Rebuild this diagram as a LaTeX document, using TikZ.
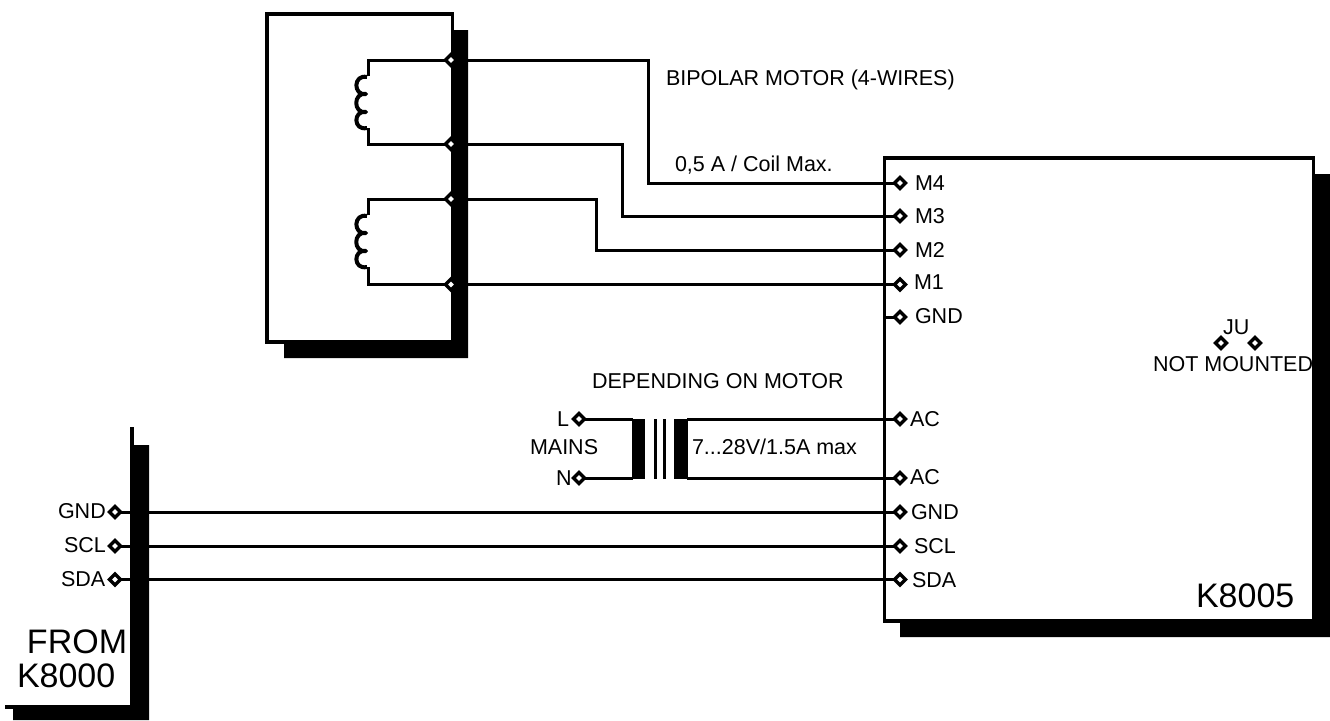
\documentclass[tikz,border=0pt]{standalone}
\usepackage{fontspec}
\setmainfont{Liberation Sans}
\usetikzlibrary{shapes.geometric}
\newcommand{\smalltxt}{\fontsize{21.5}{24}\selectfont}
\newcommand{\bigtxt}{\fontsize{34}{40}\selectfont}
\tikzset{
  term/.style={shape=diamond,draw=black,fill=white,line width=3.4pt,inner sep=0pt,minimum width=12.5pt,minimum height=12.5pt},
  anchorpt/.style={shape=diamond,inner sep=0pt,minimum width=10pt,minimum height=10pt},
  lbl/.style={anchor=base west,inner sep=0pt,outer sep=0pt,font=\smalltxt,text=black,yshift=-1pt},
  biglbl/.style={anchor=base west,inner sep=0pt,outer sep=0pt,font=\bigtxt,text=black},
  wire/.style={draw=black,line width=3pt,line cap=butt,line join=miter},
  coilw/.style={draw=black,line width=4pt,line cap=butt,line join=round},
  frame/.style={draw=black,line width=3.6pt,line join=miter},
  shade/.style={fill=black,draw=none},
}
\begin{document}
\begin{tikzpicture}[x=1pt,y=-1pt]
\useasboundingbox (0,0) rectangle (1330,720);
% shadows
\path[shade] (454,30) -- (468,30) -- (468,358) -- (284,358) -- (284,342) -- (454,342) -- cycle;
\path[shade] (1314,174) -- (1330,174) -- (1330,637) -- (900,637) -- (900,621) -- (1314,621) -- cycle;
\path[shade] (130,445) -- (149,445) -- (149,720) -- (13,720) -- (13,706) -- (130,706) -- cycle;
\path[shade] (130,427) rectangle (134,446);
\path[shade] (5,705) rectangle (131,709);
% boxes
\draw[frame] (267,14) rectangle (452.5,342);
\draw[frame] (884.5,158) rectangle (1313.5,621);
% positions
\coordinate (c1t) at (368,60);  \coordinate (c1b) at (368,144);
\coordinate (c2t) at (368,199); \coordinate (c2b) at (368,284.5);
\coordinate (b4) at (648,60);
\coordinate (b3) at (622,144);
\coordinate (b2) at (596,199);
% transformer
\path[shade] (632,419) rectangle (645,479);
\path[shade] (674,419) rectangle (688,479);
\draw[line width=3pt] (655,419) -- (655,479);
\draw[line width=3pt] (664,419) -- (664,479);
\coordinate (tp1) at (633,419); \coordinate (tp2) at (633,478);
\coordinate (ts1) at (687,419); \coordinate (ts2) at (687,478);
\node[anchorpt] (mt4) at (451,60) {};
\node[anchorpt] (mt3) at (451,144) {};
\node[anchorpt] (mt2) at (451,199) {};
\node[anchorpt] (mt1) at (451,284.5) {};
\node[anchorpt] (m4x) at (900,183) {};
\node[anchorpt] (m3x) at (900,216) {};
\node[anchorpt] (m2x) at (900,250) {};
\node[anchorpt] (m1x) at (900,284.5) {};
\node[anchorpt] (gndx) at (900,317) {};
\node[anchorpt] (ac1x) at (900,419) {};
\node[anchorpt] (ac2x) at (900,478) {};
\node[anchorpt] (g2x) at (900,512) {};
\node[anchorpt] (s2x) at (900,546) {};
\node[anchorpt] (d2x) at (900,579.5) {};
\node[anchorpt] (g1x) at (115,512) {};
\node[anchorpt] (s1x) at (115,546) {};
\node[anchorpt] (d1x) at (115,579.5) {};
\node[anchorpt] (lx) at (579,419) {};
\node[anchorpt] (nx) at (579,478) {};
% wires
\draw[wire] (mt4.center) -- (b4) -- (b4 |- m4x.center) -- (m4x.center);
\draw[wire] (mt3.center) -- (b3) -- (b3 |- m3x.center) -- (m3x.center);
\draw[wire] (mt2.center) -- (b2) -- (b2 |- m2x.center) -- (m2x.center);
\draw[wire] (mt1.center) -- (m1x.center);
\draw[wire] (884,317) -- (gndx.center);
\draw[wire] (lx.center) -- (tp1);
\draw[wire] (nx.center) -- (tp2);
\draw[wire] (ts1) -- (ac1x.center);
\draw[wire] (ts2) -- (ac2x.center);
\draw[wire] (g1x.center) -- (g2x.center);
\draw[wire] (s1x.center) -- (s2x.center);
\draw[wire] (d1x.center) -- (d2x.center);
% coils
\draw[wire] (mt4.center) -- (c1t) -- (368,76);
\draw[coilw] (367,77) .. controls (353,74) and (353,96) .. (366,94)
  .. controls (353,92) and (353,114) .. (366,112) .. controls (353,110) and (353,131) .. (367,128);
\draw[wire] (368,128) -- (c1b) -- (mt3.center);
\draw[wire] (mt2.center) -- (c2t) -- (368,215);
\draw[coilw] (367,216) .. controls (353,213) and (353,235) .. (366,233)
  .. controls (353,231) and (353,253) .. (366,251) .. controls (353,249) and (353,270) .. (367,267);
\draw[wire] (368,267) -- (c2b) -- (mt1.center);
% terminal symbols
\foreach \n/\x/\y in {mt4/451/60,mt3/451/144,mt2/451/199,mt1/451/284.5,m4/900/183,m3/900/216,m2/900/250,m1/900/284.5,gnd/900/317,ac1/900/419,ac2/900/478,g2/900/512,s2/900/546,d2/900/579.5,g1/115/512,s1/115/546,d1/115/579.5,l/579/419,n/579/478,ja/1221/343,jb/1255/343}
  \node[term] (d\n) at (\x,\y) {};
% labels
\node[lbl] (t1) at (666,84) {BIPOLAR MOTOR (4-WIRES)};
\node[lbl] (t2) at (675,170) {0,5 A / Coil Max.};
\node[lbl] (t3) at (915,189) {M4};
\node[lbl] (t4) at (915,222) {M3};
\node[lbl] (t5) at (915,256) {M2};
\node[lbl] (t6) at (914,288) {M1};
\node[lbl] (t7) at (915,322) {GND};
\node[lbl] (t8) at (592,387) {DEPENDING ON MOTOR};
\node[lbl] (t9) at (557,425) {L};
\node[lbl] (t10) at (530,453) {MAINS};
\node[lbl] (t11) at (556,484) {N};
\node[lbl] (t12) at (692,453) {7...28V/1.5A max};
\node[lbl] (t13) at (910,425) {AC};
\node[lbl] (t14) at (910,483) {AC};
\node[lbl] (t15) at (911,518) {GND};
\node[lbl] (t16) at (914,552) {SCL};
\node[lbl] (t17) at (912,586) {SDA};
\node[lbl] (t18) at (58,517) {GND};
\node[lbl] (t19) at (64,551) {SCL};
\node[lbl] (t20) at (61,585) {SDA};
\node[lbl] (t21) at (1223,333) {JU};
\node[lbl] (t22) at (1153,370) {NOT MOUNTED};
\node[biglbl] (t23) at (1196,607) {K8005};
\node[biglbl] (t24) at (27,653) {FROM};
\node[biglbl] (t25) at (17,687) {K8000};
\end{tikzpicture}
\end{document}
